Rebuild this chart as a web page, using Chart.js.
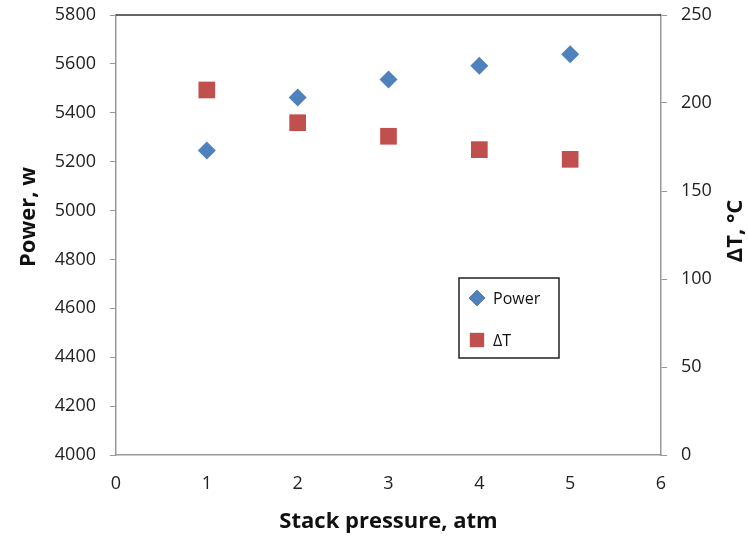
<!DOCTYPE html>
<html lang="en">
<head>
  <meta charset="UTF-8">
  <title>Power and ΔT vs stack pressure</title>
  <script src="https://cdn.jsdelivr.net/npm/chart.js"></script>
  <style>
    body { margin: 0; padding: 0; background: #fff; }
    .wrap { width: 748px; height: 537px; position: relative; }
  </style>
</head>
<body>
<div class="wrap">
  <canvas id="chart" width="748" height="537"></canvas>
</div>
<script>
  // data
  var pressure = [1, 2, 3, 4, 5];
  var power = [5246, 5462, 5536, 5592, 5639];
  var deltaT = [207.4, 188.8, 181.1, 173.5, 168.0];

  var FONT = '"Open Sans", "Liberation Sans", sans-serif';
  var TICK_COLOR = '#222';
  var AXIS_GRAY = '#999';

  function pts(ys) {
    return pressure.map(function (x, i) { return { x: x, y: ys[i] }; });
  }

  function plain(v) { return String(v); }

  function vText(ctx, text, x, y, size) {
    ctx.save();
    ctx.translate(x, y);
    ctx.rotate(-Math.PI / 2);
    ctx.font = 'bold ' + size + 'px ' + FONT;
    ctx.fillStyle = '#111';
    ctx.textAlign = 'center';
    ctx.textBaseline = 'middle';
    ctx.fillText(text, 0, 0);
    ctx.restore();
  }

  // top border, y axis titles (Excel places them off-centre) and boxed legend
  var framePlugin = {
    id: 'frame',
    afterDraw: function (chart) {
      var ctx = chart.ctx, a = chart.chartArea;
      ctx.save();
      ctx.strokeStyle = '#333';
      ctx.lineWidth = 1.5;
      ctx.beginPath();
      ctx.moveTo(a.left, a.top);
      ctx.lineTo(a.right, a.top);
      ctx.stroke();

      vText(ctx, 'Power, w', 29, 217, 22);
      vText(ctx, 'ΔT, °C', 736, 231, 22);

      // legend box
      var bx = 459, by = 278, bw = 100, bh = 80;
      ctx.strokeStyle = '#222';
      ctx.lineWidth = 1.5;
      ctx.strokeRect(bx, by, bw, bh);
      ctx.font = '16px ' + FONT;
      ctx.textBaseline = 'middle';
      chart.data.datasets.forEach(function (ds, i) {
        var cy = by + 20 + i * 42;
        Chart.helpers.drawPoint(ctx, {
          pointStyle: ds.pointStyle,
          radius: ds.pointStyle === 'rect' ? 10 : 8,
          rotation: 0
        }, bx + 18, cy);
        ctx.fillStyle = ds.backgroundColor;
        ctx.fill();
        ctx.fillStyle = '#111';
        ctx.fillText(ds.label, bx + 34, cy + 1);
      });
      ctx.restore();
    }
  };

  function fitY(w) {
    return function (s) {
      s.width = w;
      s.paddingTop = 0;
      s.paddingBottom = 0;
    };
  }

  new Chart(document.getElementById('chart').getContext('2d'), {
    type: 'scatter',
    data: {
      datasets: [{
        label: 'Power',
        data: pts(power),
        yAxisID: 'y',
        pointStyle: 'rectRot',
        pointRadius: 9,
        backgroundColor: '#4F81BD',
        borderColor: '#4F81BD',
        borderWidth: 0
      }, {
        label: 'ΔT',
        data: pts(deltaT),
        yAxisID: 'y2',
        pointStyle: 'rect',
        pointRadius: 11.8,
        backgroundColor: '#C0504D',
        borderColor: '#C0504D',
        borderWidth: 0
      }]
    },
    options: {
      responsive: false,
      animation: false,
      layout: { padding: { top: 15, left: 0, right: 0, bottom: 0 } },
      plugins: {
        legend: { display: false },
        tooltip: { enabled: false }
      },
      scales: {
        x: {
          type: 'linear',
          min: 0,
          max: 6,
          afterFit: function (s) { s.height = 82; s.paddingLeft = 0; s.paddingRight = 0; },
          ticks: { stepSize: 1, padding: 18, color: TICK_COLOR, callback: plain, font: { family: FONT, size: 18 } },
          grid: { drawOnChartArea: false, drawTicks: false },
          border: { color: AXIS_GRAY, width: 1.5 },
          title: {
            display: true,
            text: 'Stack pressure, atm',
            color: '#111',
            padding: { top: 0, bottom: 2 },
            font: { family: FONT, size: 22, weight: 'bold' }
          }
        },
        y: {
          position: 'left',
          min: 4000,
          max: 5800,
          afterFit: fitY(116),
          ticks: { stepSize: 200, padding: 14, color: TICK_COLOR, callback: plain, font: { family: FONT, size: 18 } },
          grid: { drawOnChartArea: false, tickLength: 6, color: AXIS_GRAY },
          border: { color: AXIS_GRAY, width: 1.5 }
        },
        y2: {
          position: 'right',
          min: 0,
          max: 250,
          afterFit: fitY(87),
          ticks: { stepSize: 50, padding: 14, color: TICK_COLOR, callback: plain, font: { family: FONT, size: 18 } },
          grid: { drawOnChartArea: false, tickLength: 6, color: AXIS_GRAY },
          border: { color: AXIS_GRAY, width: 1.5 }
        }
      }
    },
    plugins: [framePlugin]
  });
</script>
</body>
</html>
